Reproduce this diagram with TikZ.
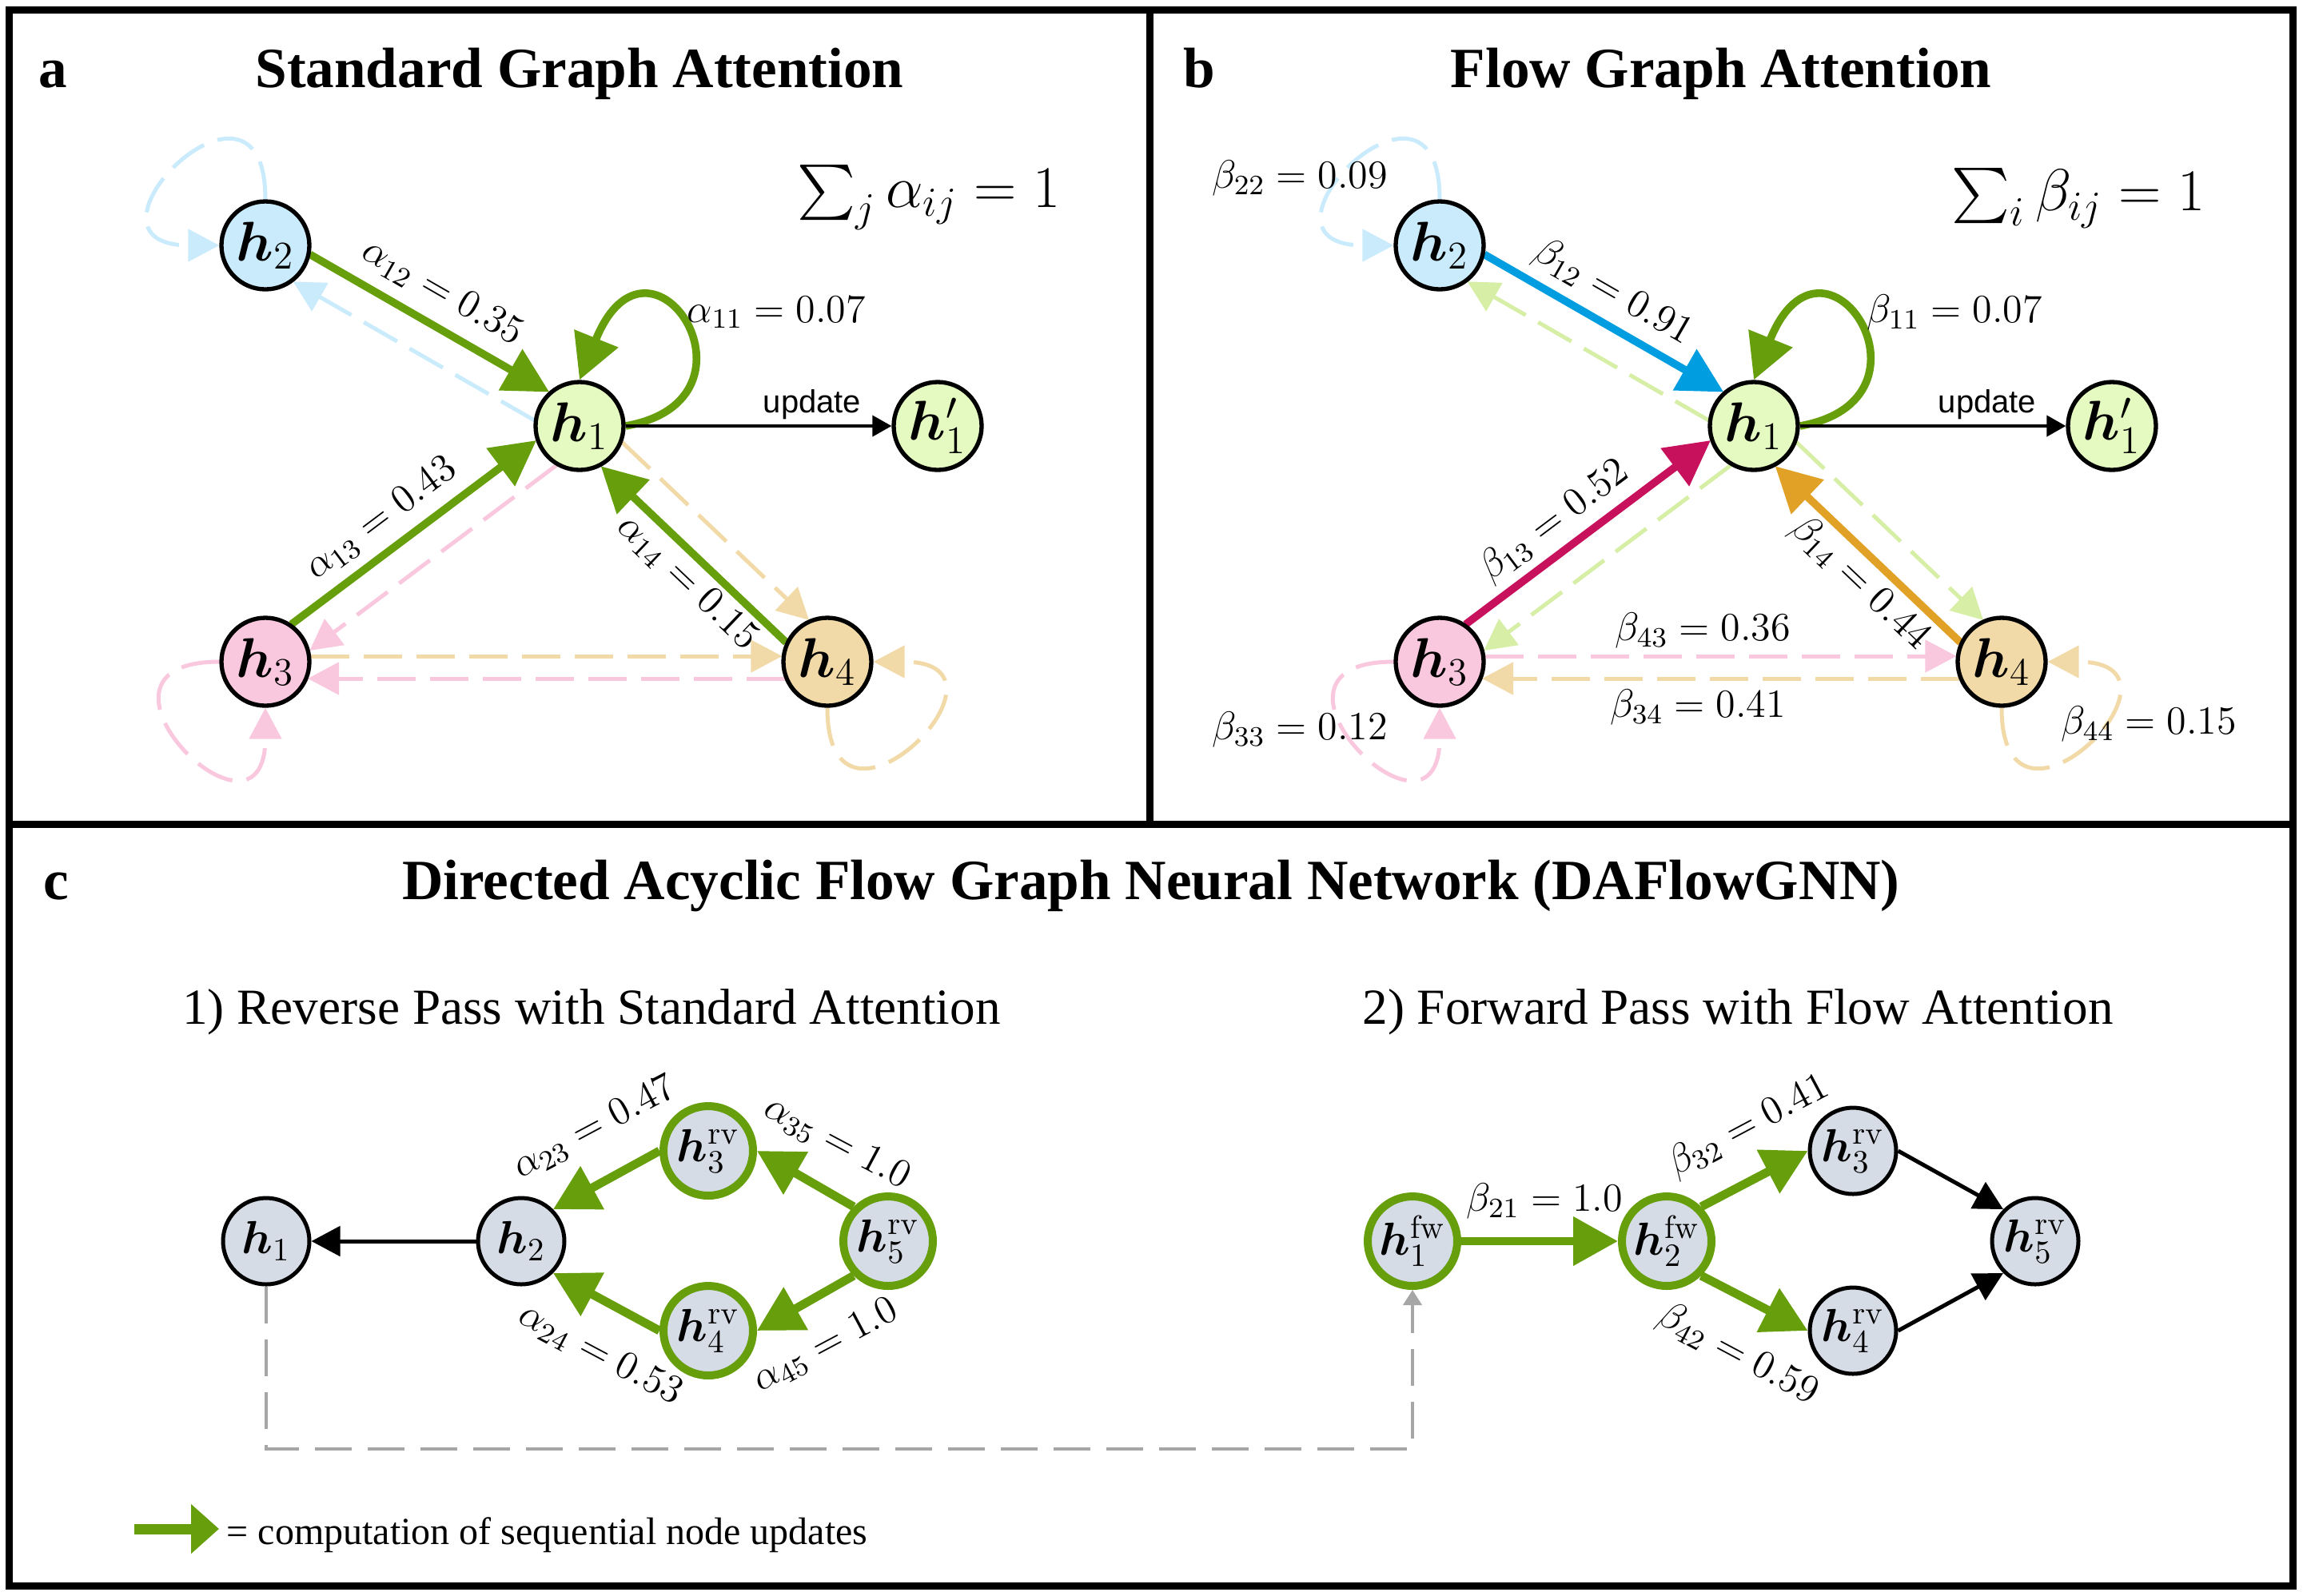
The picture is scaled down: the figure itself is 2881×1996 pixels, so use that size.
\RequirePackage{fix-cm}
\documentclass[tikz,border=0pt]{standalone}
\usepackage{amsmath}
\usepackage{exscale}
\usepackage[no-math]{fontspec}
\setmainfont{Liberation Serif}
\newfontfamily\sansupd{Liberation Sans}
\usepackage{bm}
\usetikzlibrary{arrows.meta,calc}
\pgfdeclarelayer{bg}
\pgfsetlayers{bg,main}

\definecolor{grn}{RGB}{102,158,12}
\definecolor{fgreen}{RGB}{228,250,193}
\definecolor{fblue}{RGB}{201,235,251}
\definecolor{fpink}{RGB}{249,199,222}
\definecolor{ftan}{RGB}{241,218,167}
\definecolor{dgreen}{RGB}{214,238,165}
\definecolor{sblue}{RGB}{0,158,224}
\definecolor{scrim}{RGB}{199,17,92}
\definecolor{sorange}{RGB}{225,161,38}
\definecolor{cfill}{RGB}{214,220,230}
\definecolor{gdash}{RGB}{166,166,166}

% offset edge: [style]{from}{to}{offset}{shorten}
\newcommand\offedge[5][]{\draw[#1, shorten <=#5, shorten >=#5] ($(#2)!#4!90:(#3)$) -- ($(#3)!#4!-90:(#2)$);}

\tikzset{
  nodeab/.style={circle, draw=black, line width=1.33pt, minimum size=27.5pt, inner sep=0pt, font=\fontsize{17.5}{20}\selectfont},
  nodec/.style={circle, draw=black, line width=1.25pt, minimum size=27pt, inner sep=0pt, fill=cfill, font=\fontsize{14.5}{17}\selectfont},
  nodecg/.style={nodec, draw=grn, line width=2.5pt, minimum size=28pt},
  lab/.style={inner sep=0pt, font=\fontsize{12.5}{15}\selectfont},
  sumlab/.style={inner sep=0pt, font=\fontsize{18.5}{22}\selectfont},
  updlab/.style={inner sep=0pt, font=\sansupd\fontsize{10}{12}\selectfont},
  solidedge/.style={line width=2.4pt, -{Triangle[length=14pt,width=14.3pt]}},
  dashedge/.style={line width=1.25pt, dash pattern=on 12pt off 4.5pt, -{Triangle[length=9.75pt,width=10pt]}},
  cgreen/.style={color=grn, line width=2.7pt, -{Triangle[length=14pt,width=14.75pt]}},
  cblack/.style={color=black, line width=1.25pt, -{Triangle[length=9pt,width=9.25pt]}},
  updarrow/.style={color=black, line width=1pt, -{Triangle[length=6pt,width=6.5pt]}},
  graydashed/.style={color=gdash, line width=1pt, dash pattern=on 11.5pt off 5pt, -{Triangle[length=4.75pt,width=5.75pt]}},
  titletext/.style={inner sep=0pt, font=\bfseries\fontsize{17.8}{21}\selectfont},
  subtext/.style={inner sep=0pt, font=\fontsize{15.8}{19}\selectfont},
  panelframe/.style={line width=2.25pt, draw=black},
}

\begin{document}
\begin{tikzpicture}[x=0.25pt, y=0.25pt]
\useasboundingbox (0,0) rectangle (2881,-1996);

% ---------- frames ----------
\draw[panelframe] (11,-12) rectangle (2868,-1984);
\draw[panelframe] (1438.5,-12) -- (1438.5,-1031);
\draw[panelframe] (11,-1031) -- (2868,-1031);

% ---------- titles ----------
\node[titletext, anchor=base west] (pla) at (48,-109) {a};
\node[titletext, anchor=base] (tta) at (725,-109) {Standard Graph Attention};
\node[titletext, anchor=base west] (plb) at (1480,-109) {b};
\node[titletext, anchor=base] (ttb) at (2153,-109) {Flow Graph Attention};
\node[titletext, anchor=base west] (plc) at (54,-1125) {c};
\node[titletext, anchor=base] (ttc) at (1440,-1125) {Directed Acyclic Flow Graph Neural Network (DAFlowGNN)};
\node[subtext, anchor=base] (st1) at (740,-1281) {1) Reverse Pass with Standard Attention};
\node[subtext, anchor=base] (st2) at (2174,-1281) {2) Forward Pass with Flow Attention};

% ---------- panel a ----------
\node[nodeab, fill=fgreen] (h1a) at (725,-533) {$\bm{h}_1$};
\node[nodeab, fill=fblue] (h2a) at (332,-307) {$\bm{h}_2$};
\node[nodeab, fill=fpink] (h3a) at (332,-828) {$\bm{h}_3$};
\node[nodeab, fill=ftan] (h4a) at (1035,-828) {$\bm{h}_4$};
\node[nodeab, fill=fgreen] (h1pa) at (1173,-533) {$\bm{h}'_1$};

\begin{pgfonlayer}{bg}
\offedge[solidedge, color=grn]{h2a}{h1a}{4.5pt}{13.5pt}
\offedge[dashedge, color=fblue]{h1a}{h2a}{5.5pt}{13.15pt}
\offedge[solidedge, color=grn]{h3a}{h1a}{4.5pt}{13.5pt}
\offedge[dashedge, color=fpink]{h1a}{h3a}{5.5pt}{13.15pt}
\offedge[solidedge, color=grn]{h4a}{h1a}{4.5pt}{13.5pt}
\offedge[dashedge, color=ftan]{h1a}{h4a}{5.5pt}{13.15pt}
\offedge[dashedge, color=ftan]{h3a}{h4a}{1.75pt}{14.15pt}
\offedge[dashedge, color=fpink]{h4a}{h3a}{5.25pt}{13.25pt}
\draw[dashedge, color=fblue] (h2a.north) .. controls +(90:200) and +(180:200) .. (h2a.west);
\draw[dashedge, color=fpink] (h3a.west) .. controls +(180:200) and +(270:200) .. (h3a.south);
\draw[dashedge, color=ftan] (h4a.south) .. controls +(270:200) and +(0:200) .. (h4a.east);
\draw[solidedge, color=grn] (h1a.east) .. controls +(10:190) and +(68:235) .. (h1a.north);
\draw[updarrow] (h1a) -- (h1pa);
\end{pgfonlayer}

\node[lab, rotate=-29.9] (l12a) at (553,-366) {$\alpha_{12} = 0.35$};
\node[lab] (l11a) at (971,-391) {$\alpha_{11} = 0.07$};
\node[lab, rotate=36.9] (l13a) at (477,-649) {$\alpha_{13} = 0.43$};
\node[lab, rotate=-43.6] (l14a) at (860,-729) {$\alpha_{14} = 0.15$};
\node[updlab] (upa) at (1016,-506) {update};
\node[sumlab] (suma) at (1162,-247) {$\sum_j \alpha_{ij} = 1$};

% ---------- panel b ----------
\node[nodeab, fill=fgreen] (h1b) at (2194,-533) {$\bm{h}_1$};
\node[nodeab, fill=fblue] (h2b) at (1801,-307) {$\bm{h}_2$};
\node[nodeab, fill=fpink] (h3b) at (1801,-828) {$\bm{h}_3$};
\node[nodeab, fill=ftan] (h4b) at (2504,-828) {$\bm{h}_4$};
\node[nodeab, fill=fgreen] (h1pb) at (2642,-533) {$\bm{h}'_1$};

\begin{pgfonlayer}{bg}
\offedge[solidedge, color=sblue]{h2b}{h1b}{4.5pt}{13.5pt}
\offedge[dashedge, color=dgreen]{h1b}{h2b}{5.5pt}{13.15pt}
\offedge[solidedge, color=scrim]{h3b}{h1b}{4.5pt}{13.5pt}
\offedge[dashedge, color=dgreen]{h1b}{h3b}{5.5pt}{13.15pt}
\offedge[solidedge, color=sorange]{h4b}{h1b}{4.5pt}{13.5pt}
\offedge[dashedge, color=dgreen]{h1b}{h4b}{5.5pt}{13.15pt}
\offedge[dashedge, color=fpink]{h3b}{h4b}{1.75pt}{14.15pt}
\offedge[dashedge, color=ftan]{h4b}{h3b}{5.25pt}{13.25pt}
\draw[dashedge, color=fblue] (h2b.north) .. controls +(90:200) and +(180:200) .. (h2b.west);
\draw[dashedge, color=fpink] (h3b.west) .. controls +(180:200) and +(270:200) .. (h3b.south);
\draw[dashedge, color=ftan] (h4b.south) .. controls +(270:200) and +(0:200) .. (h4b.east);
\draw[solidedge, color=grn] (h1b.east) .. controls +(10:190) and +(68:235) .. (h1b.north);
\draw[updarrow] (h1b) -- (h1pb);
\end{pgfonlayer}

\node[lab] (l22b) at (1626,-223) {$\beta_{22} = 0.09$};
\node[lab, rotate=-29.9] (l12b) at (2018,-366) {$\beta_{12} = 0.91$};
\node[lab] (l11b) at (2445,-391) {$\beta_{11} = 0.07$};
\node[lab, rotate=36.9] (l13b) at (1945,-652) {$\beta_{13} = 0.52$};
\node[lab, rotate=-43.6] (l14b) at (2327,-730) {$\beta_{14} = 0.44$};
\node[lab] (l43b) at (2130,-789) {$\beta_{43} = 0.36$};
\node[lab] (l34b) at (2124,-885) {$\beta_{34} = 0.41$};
\node[lab] (l33b) at (1626,-913) {$\beta_{33} = 0.12$};
\node[lab] (l44b) at (2688,-906) {$\beta_{44} = 0.15$};
\node[updlab] (upb) at (2486,-506) {update};
\node[sumlab] (sumb) at (2600,-248) {$\sum_i \beta_{ij} = 1$};

% ---------- panel c ----------
\node[nodec] (c1) at (333,-1553) {$\bm{h}_1$};
\node[nodec] (c2) at (652,-1553) {$\bm{h}_2$};
\node[nodecg] (c3) at (886,-1440) {$\bm{h}^{\mathrm{rv}}_3$};
\node[nodecg] (c4) at (886,-1665) {$\bm{h}^{\mathrm{rv}}_4$};
\node[nodecg] (c5) at (1111,-1553) {$\bm{h}^{\mathrm{rv}}_5$};
\node[nodecg] (f1) at (1767,-1553) {$\bm{h}^{\mathrm{fw}}_1$};
\node[nodecg] (f2) at (2085,-1553) {$\bm{h}^{\mathrm{fw}}_2$};
\node[nodec] (f3) at (2318,-1440) {$\bm{h}^{\mathrm{rv}}_3$};
\node[nodec] (f4) at (2318,-1665) {$\bm{h}^{\mathrm{rv}}_4$};
\node[nodec] (f5) at (2546,-1553) {$\bm{h}^{\mathrm{rv}}_5$};

\begin{pgfonlayer}{bg}
\draw[cblack] (c2.west) -- (c1.east);
\draw[cgreen] (c3.west) -- (c2.45);
\draw[cgreen] (c4.west) -- (c2.-45);
\draw[cgreen] (c5.135) -- (c3.east);
\draw[cgreen] (c5.-135) -- (c4.east);
\draw[cgreen] (f1.east) -- (f2.west);
\draw[cgreen] (f2.45) -- (f3.west);
\draw[cgreen] (f2.-45) -- (f4.west);
\draw[cblack] (f3.east) -- (f5.135);
\draw[cblack] (f4.east) -- (f5.-135);
\draw[graydashed] (c1.south) -- ++(0,-203) -| (f1.south);
\end{pgfonlayer}

\node[lab, rotate=28] (l23c) at (744,-1411) {$\alpha_{23} = 0.47$};
\node[lab, rotate=-28] (l35c) at (1047,-1430) {$\alpha_{35} = 1.0$};
\node[lab, rotate=-28] (l24c) at (751,-1695) {$\alpha_{24} = 0.53$};
\node[lab, rotate=28] (l45c) at (1033,-1684) {$\alpha_{45} = 1.0$};
\node[lab] (l21f) at (1932,-1503) {$\beta_{21} = 1.0$};
\node[lab, rotate=28] (l32f) at (2188,-1409) {$\beta_{32} = 0.41$};
\node[lab, rotate=-28] (l42f) at (2174,-1695) {$\beta_{42} = 0.59$};

% ---------- legend ----------
\coordinate (legA) at (168,-1913);
\coordinate (legB) at (274,-1913);
\draw[color=grn, line width=3.25pt, -{Triangle[length=8.75pt,width=15pt]}] (legA) -- (legB);
\node[inner sep=0pt, anchor=base west, font=\fontsize{12}{14}\selectfont] (legt) at (283,-1932) {= computation of sequential node updates};

\end{tikzpicture}
\end{document}
